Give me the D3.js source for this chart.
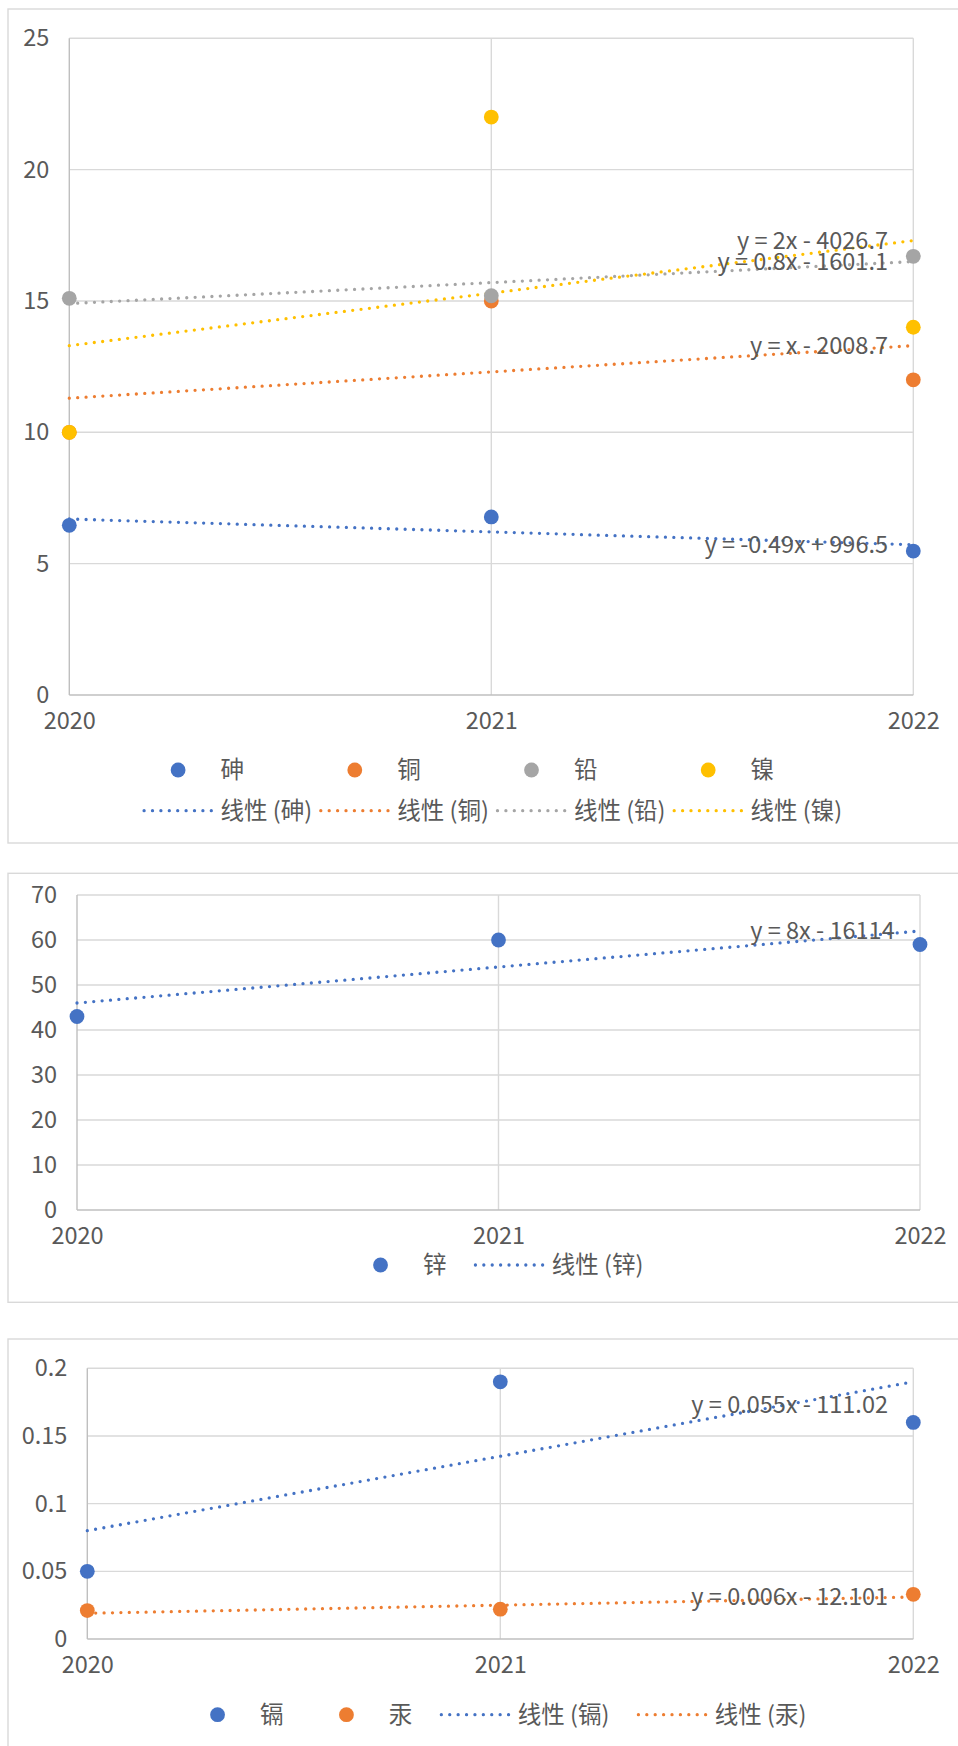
<!DOCTYPE html>
<html>
<head>
<meta charset="utf-8">
<script src="https://cdn.jsdelivr.net/npm/d3@7"></script>
<style>
  html, body { margin: 0; padding: 0; background: #fff; }
  svg { display: block; }
  text { font-family: "Noto Sans CJK SC", "Noto Sans", sans-serif; fill: #595959; }
</style>
</head>
<body>
<svg id="chart" width="958" height="1746"></svg>
<script>
// ---- data ----
const years = [2020, 2021, 2022];

// panel 1: 砷 / 铜 / 铅 / 镍
const panel1Names = ["砷", "铜", "铅", "镍"];
const arsenic = [6.46, 6.78, 5.48];
const copper  = [10, 15, 12];
const lead    = [15.1, 15.2, 16.7];
const nickel  = [10, 22, 14];
const panel1Slopes     = [-0.49, 1, 0.8, 2];
const panel1Intercepts = [996.5, -2008.7, -1601.1, -4026.7];
const panel1Ticks = [0, 5, 10, 15, 20, 25];

// panel 2: 锌
const panel2Names = ["锌"];
const zinc = [43, 60, 59];
const panel2Slopes     = [8];
const panel2Intercepts = [-16114];
const panel2Ticks = [0, 10, 20, 30, 40, 50, 60, 70];

// panel 3: 镉 / 汞
const panel3Names = ["镉", "汞"];
const cadmium = [0.05, 0.19, 0.16];
const mercury = [0.021, 0.022, 0.033];
const panel3Slopes     = [0.055, 0.006];
const panel3Intercepts = [-111.02, -12.101];
const panel3Ticks = [0, 0.05, 0.1, 0.15, 0.2];

const palette = ["#4472C4", "#ED7D31", "#A5A5A5", "#FFC000"];

// ---- layout ----
const FONT = 23.5;
const GRID = "#D9D9D9", AXIS = "#BFBFBF";
const LEGEND_CX = 494.5;

const panels = [
  {
    names: panel1Names, series: [arsenic, copper, lead, nickel],
    slopes: panel1Slopes, intercepts: panel1Intercepts, ticks: panel1Ticks,
    frame: { left: 8, right: 990, top: 9, bottom: 843 },
    plot: { left: 69.3, right: 913.3, top: 38.3, bottom: 695 },
    legend: { mode: "grid", cols: 4, colW: 176.7, rows: [770, 810.7] },
    labelShift: [0, 0, 0, 0]
  },
  {
    names: panel2Names, series: [zinc],
    slopes: panel2Slopes, intercepts: panel2Intercepts, ticks: panel2Ticks,
    frame: { left: 8, right: 990, top: 873.3, bottom: 1302.3 },
    plot: { left: 77, right: 920, top: 895, bottom: 1210 },
    legend: { mode: "flow", y: 1265 },
    labelShift: [0]
  },
  {
    names: panel3Names, series: [cadmium, mercury],
    slopes: panel3Slopes, intercepts: panel3Intercepts, ticks: panel3Ticks,
    frame: { left: 8, right: 990, top: 1339, bottom: 1790 },
    plot: { left: 87.3, right: 913.3, top: 1368.3, bottom: 1639 },
    legend: { mode: "flow", y: 1714.7 },
    labelShift: [23, 0]
  }
];

const svg = d3.select("#chart");

function equationText(m, b) {
  let s = "y = ";
  if (m === 1) s += "x";
  else if (m === -1) s += "-x";
  else s += String(m) + "x";
  s += b < 0 ? " - " + String(-b) : " + " + String(b);
  return s;
}

// round-dot trend line style
function dotted(sel, color) {
  return sel.attr("fill", "none").attr("stroke", color)
    .attr("stroke-width", 3.3).attr("stroke-linecap", "round")
    .attr("stroke-dasharray", "0 8.4");
}

panels.forEach(p => {
  const g = svg.append("g");

  // chart frame
  g.append("rect")
    .attr("x", p.frame.left).attr("y", p.frame.top)
    .attr("width", p.frame.right - p.frame.left)
    .attr("height", p.frame.bottom - p.frame.top)
    .attr("fill", "#fff").attr("stroke", GRID).attr("stroke-width", 1.4);

  const x = d3.scaleLinear().domain([years[0], years[years.length - 1]])
    .range([p.plot.left, p.plot.right]);
  const y = d3.scaleLinear().domain([0, d3.max(p.ticks)])
    .range([p.plot.bottom, p.plot.top]);

  // gridlines
  g.append("g").selectAll("line").data(p.ticks.filter(t => t !== 0)).join("line")
    .attr("x1", p.plot.left).attr("x2", p.plot.right)
    .attr("y1", d => y(d)).attr("y2", d => y(d))
    .attr("stroke", GRID).attr("stroke-width", 1.4);
  g.append("g").selectAll("line").data(years.slice(1)).join("line")
    .attr("x1", d => x(d)).attr("x2", d => x(d))
    .attr("y1", p.plot.top).attr("y2", p.plot.bottom)
    .attr("stroke", GRID).attr("stroke-width", 1.4);

  // axis lines
  g.append("line").attr("x1", x(years[0])).attr("x2", x(years[0]))
    .attr("y1", p.plot.top).attr("y2", p.plot.bottom)
    .attr("stroke", AXIS).attr("stroke-width", 1.4);
  g.append("line").attr("x1", p.plot.left).attr("x2", p.plot.right)
    .attr("y1", y(0)).attr("y2", y(0))
    .attr("stroke", AXIS).attr("stroke-width", 1.4);

  // tick labels
  const yAxis = g.append("g").attr("transform", `translate(${p.plot.left},0)`)
    .call(d3.axisLeft(y).tickValues(p.ticks).tickSize(0).tickPadding(20)
      .tickFormat(d => String(d)));
  const xAxis = g.append("g").attr("transform", `translate(0,${p.plot.bottom})`)
    .call(d3.axisBottom(x).tickValues(years).tickSize(0).tickPadding(17.3)
      .tickFormat(d3.format("d")));
  [yAxis, xAxis].forEach(a => {
    a.select(".domain").remove();
    a.attr("font-family", null).attr("font-size", null);
    a.selectAll("text").attr("font-size", FONT).attr("fill", "#595959");
  });

  // trend lines
  const trend = g.append("g");
  p.series.forEach((vals, i) => {
    const f = v => p.slopes[i] * v + p.intercepts[i];
    const x0 = years[0], x1 = years[years.length - 1];
    dotted(trend.append("line")
      .attr("x1", x(x0)).attr("y1", y(f(x0)))
      .attr("x2", x(x1)).attr("y2", y(f(x1))), palette[i]);
  });

  // markers
  p.series.forEach((vals, i) => {
    g.append("g").selectAll("circle").data(vals).join("circle")
      .attr("cx", (d, j) => x(years[j])).attr("cy", d => y(d))
      .attr("r", 7.4).attr("fill", palette[i]);
  });

  // trend equations
  p.series.forEach((vals, i) => {
    const xe = years[years.length - 1];
    const ye = p.slopes[i] * xe + p.intercepts[i];
    g.append("text")
      .attr("x", p.plot.right - 25.3)
      .attr("y", y(ye) + 8.3 + p.labelShift[i])
      .attr("text-anchor", "end").attr("font-size", FONT)
      .text(equationText(p.slopes[i], p.intercepts[i]));
  });

  // legend
  const items = p.names.map((n, i) => ({ kind: "dot", color: palette[i], label: n }))
    .concat(p.names.map((n, i) => ({ kind: "line", color: palette[i], label: `线性 (${n})` })));
  const lg = g.append("g");
  const SYM = 70, PAD = 7.4, GAP = 28;

  function drawItem(it, left, cy) {
    if (it.kind === "dot") {
      lg.append("circle").attr("cx", left + SYM / 2).attr("cy", cy)
        .attr("r", 7.4).attr("fill", it.color);
    } else {
      dotted(lg.append("line").attr("x1", left + 1).attr("x2", left + SYM - 1)
        .attr("y1", cy).attr("y2", cy), it.color);
    }
    return lg.append("text").attr("x", left + SYM + PAD).attr("y", cy + 8.2)
      .attr("font-size", FONT).text(it.label);
  }

  if (p.legend.mode === "grid") {
    const L = p.legend;
    const start = LEGEND_CX - (L.cols * L.colW) / 2 + 2;
    items.forEach((it, k) => {
      const r = Math.floor(k / L.cols), c = k % L.cols;
      drawItem(it, start + c * L.colW, L.rows[r]);
    });
  } else {
    const cy = p.legend.y;
    const texts = items.map(it => drawItem(it, 0, cy));
    const widths = texts.map(t => SYM + PAD + t.node().getComputedTextLength());
    const total = d3.sum(widths) + GAP * (widths.length - 1);
    lg.selectAll("*").remove();
    let left = LEGEND_CX - total / 2;
    items.forEach((it, k) => { drawItem(it, left, cy); left += widths[k] + GAP; });
  }
});
</script>
</body>
</html>
